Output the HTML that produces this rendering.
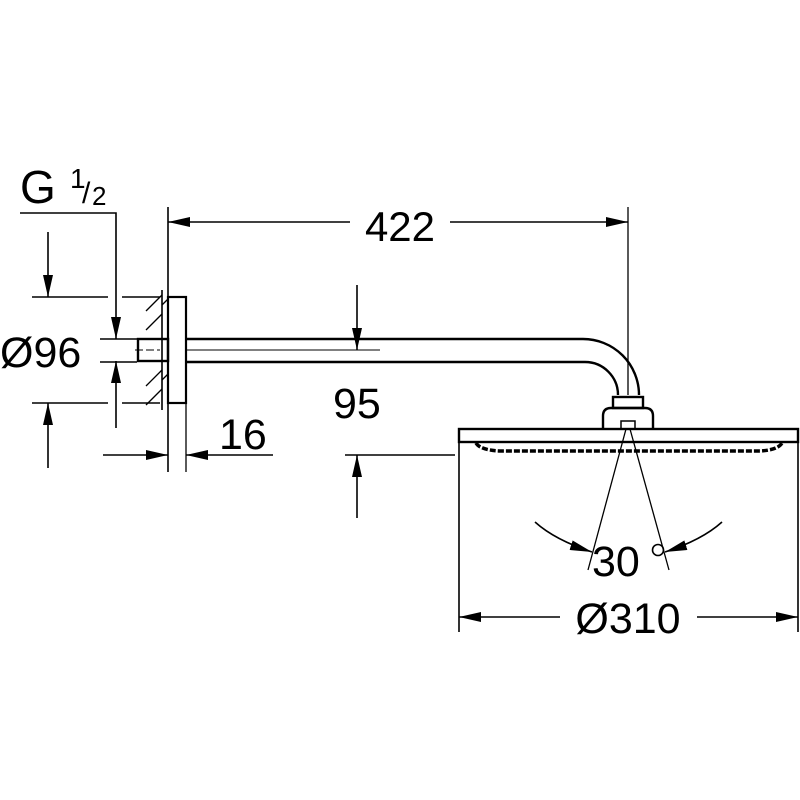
<!DOCTYPE html>
<html><head><style>html,body{margin:0;background:#fff}svg{display:block}text{font-family:"Liberation Sans",sans-serif;fill:#000}</style></head><body>
<svg width="800" height="800" viewBox="0 0 800 800" xmlns="http://www.w3.org/2000/svg">
<defs>
<marker id="a" viewBox="0 0 22 10" refX="22" refY="5" markerWidth="22" markerHeight="10" markerUnits="userSpaceOnUse" orient="auto"><path d="M0,0 L22,5 L0,10 Z" fill="#000"/></marker>
</defs>
<g stroke="#000" fill="none" stroke-width="1.6">
<line x1="168" y1="207" x2="168" y2="472"/>
<line x1="162" y1="290" x2="162" y2="410"/>
<g stroke-width="1.3">
<line x1="146" y1="311" x2="162" y2="295"/><line x1="146" y1="330" x2="162" y2="314"/>
<line x1="146" y1="386" x2="162" y2="370"/><line x1="146" y1="405" x2="162" y2="389"/>
<line x1="162" y1="305" x2="168" y2="299"/><line x1="162" y1="380" x2="168" y2="374"/>
</g>
<rect x="168" y="297" width="18" height="106" stroke-width="2.2"/>
<rect x="138" y="339" width="30" height="22" stroke-width="2.4"/>
<line x1="135" y1="350" x2="160" y2="350" stroke-dasharray="8 3" stroke-width="1"/>
<path d="M186,339 H583 A56,56 0 0 1 639,395" stroke-width="2.4"/>
<path d="M186,362 H585 A33,33 0 0 1 618,395" stroke-width="2.4"/>
<line x1="186" y1="350" x2="380" y2="350" stroke-width="1"/>
<rect x="613" y="397" width="30" height="11" stroke-width="2.4"/>
<path d="M603,429 V416 Q603,408 611,408 H645 Q653,408 653,416 V429" stroke-width="2.4"/>
<rect x="621" y="421" width="14" height="8" stroke-width="1.5"/>
<rect x="459" y="429" width="339" height="13" stroke-width="2.4"/>
<path d="M476,443 Q480,450 500,451 L760,451 Q778,450 782,443" stroke-width="3.5" stroke-dasharray="6 2"/>
<line x1="628" y1="207" x2="628" y2="395" stroke-width="1.3"/>
<line x1="350" y1="222" x2="168" y2="222" marker-end="url(#a)"/>
<line x1="450" y1="222" x2="628" y2="222" marker-end="url(#a)"/>
<path d="M20,213 H116 V339" marker-end="url(#a)"/>
<line x1="116" y1="428" x2="116" y2="361" marker-end="url(#a)"/>
<line x1="100" y1="339" x2="137" y2="339"/><line x1="100" y1="362" x2="137" y2="362"/>
<line x1="32" y1="297" x2="108" y2="297"/><line x1="122" y1="297" x2="160" y2="297"/>
<line x1="32" y1="403" x2="108" y2="403"/><line x1="122" y1="403" x2="160" y2="403"/>
<line x1="48" y1="232" x2="48" y2="297" marker-end="url(#a)"/>
<line x1="48" y1="468" x2="48" y2="403" marker-end="url(#a)"/>
<line x1="186" y1="403" x2="186" y2="472" stroke-width="1.3"/>
<line x1="103" y1="455" x2="168" y2="455" marker-end="url(#a)"/>
<line x1="273" y1="455" x2="186" y2="455" marker-end="url(#a)"/>
<line x1="357" y1="285" x2="357" y2="350" marker-end="url(#a)"/>
<line x1="345" y1="455" x2="455" y2="455"/>
<line x1="357" y1="518" x2="357" y2="455" marker-end="url(#a)"/>
<line x1="459" y1="442" x2="459" y2="632"/>
<line x1="798" y1="442" x2="798" y2="632"/>
<line x1="560" y1="617" x2="459" y2="617" marker-end="url(#a)"/>
<line x1="697" y1="617" x2="798" y2="617" marker-end="url(#a)"/>
<line x1="626" y1="429" x2="588" y2="570" stroke-width="1.3"/>
<line x1="630" y1="429" x2="669" y2="570" stroke-width="1.3"/>
<path d="M535,522 Q555,540 592,552" marker-end="url(#a)"/>
<path d="M722,522 Q702,540 665,552" marker-end="url(#a)"/>
<circle cx="658" cy="550" r="5.5" stroke-width="1.6"/>
</g>
<text x="400" y="241" font-size="42" text-anchor="middle">422</text>
<text x="20" y="203" font-size="46">G</text>
<text x="70" y="188" font-size="28">1</text>
<text x="82" y="203" font-size="30">/</text>
<text x="92" y="205" font-size="26">2</text>
<text x="0" y="367" font-size="43">Ø96</text>
<text x="219" y="449" font-size="43">16</text>
<text x="333" y="418" font-size="43">95</text>
<text x="592" y="576" font-size="43">30</text>
<text x="628" y="633" font-size="43" text-anchor="middle">Ø310</text>
</svg>
</body></html>
